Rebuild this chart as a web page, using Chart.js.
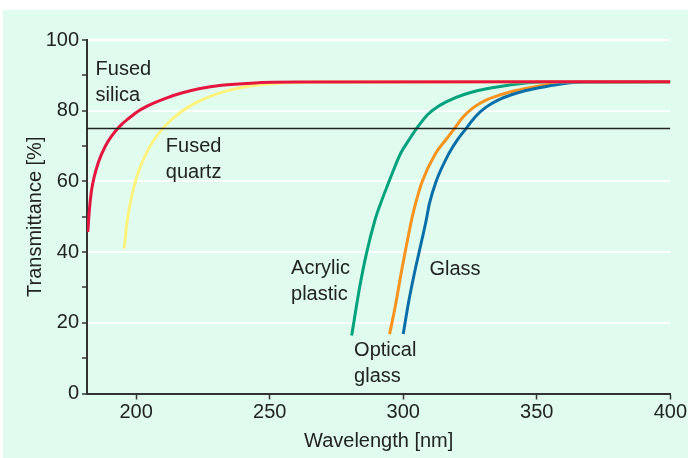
<!DOCTYPE html>
<html lang="en">
<head>
<meta charset="UTF-8" />
<title>Transmittance of optical materials</title>
<script src="https://cdn.jsdelivr.net/npm/chart.js"></script>
<style>
  body { margin: 0; background: #fff; }
  #wrap {
    position: absolute;
    left: 3px;
    top: 10px;
    width: 685px;
    height: 448px;
    background: #e0fcee; /* mint panel */
  }
</style>
</head>
<body>
<div id="wrap"><canvas id="chart"></canvas></div>
<script>
// wavelength [nm] / transmittance [%]
const silicaX = [181.9, 182.5, 183.2, 184.2, 185.9, 188.5, 191, 194, 197.5, 201, 205.5, 211, 217, 224, 232, 243, 260, 400];
const silicaY = [45.7, 52, 57, 61, 65.5, 70, 73, 75.7, 78, 80, 81.8, 83.5, 85, 86.3, 87.2, 87.8, 88.1, 88.2];

const quartzX = [195.5, 196.5, 197.7, 199.2, 201, 203.5, 206.5, 210, 214, 219, 225, 232, 241, 252, 268, 400];
const quartzY = [41, 48, 53.5, 58.5, 63, 67.5, 71.5, 75, 78, 80.8, 83.2, 85.2, 86.8, 87.7, 88.1, 88.2];

const acrylicX = [280.7, 281.6, 283.7, 286.2, 289.4, 291.5, 294.7, 299, 302.1, 305.5, 309, 313, 317.5, 322.5, 328, 335.7, 344.4, 352, 400];
const acrylicY = [16.4, 20.6, 30.1, 39.5, 49, 53.7, 60, 67.9, 71.7, 75.5, 78.8, 81.2, 83, 84.5, 85.7, 86.8, 87.7, 88.1, 88.2];

const opticalX = [294.9, 297.2, 299.4, 300.6, 303.1, 304.6, 307.1, 312.1, 316.4, 319.2, 322.5, 326.5, 331, 336.5, 342, 349.3, 356.8, 363, 400];
const opticalY = [16.8, 25.4, 34.8, 39.5, 49, 53.7, 60, 67.9, 72.2, 75, 78.3, 81, 83, 84.5, 85.7, 86.8, 87.7, 88.1, 88.2];

const glassX = [300, 301.9, 304.4, 305.8, 308.6, 309.8, 312.3, 317.1, 320.2, 323.9, 327, 331, 335.5, 340.5, 346, 353.1, 360.5, 367, 400];
const glassY = [16.8, 25.4, 34.8, 39.5, 49, 53.7, 60, 67.9, 71.7, 75.3, 78.3, 81, 83, 84.5, 85.7, 86.8, 87.7, 88.1, 88.2];

const refLineX = [181.6, 400];
const refLineY = [75, 75];

const xTicks = [200, 250, 300, 350, 400];
const yTicks = [0, 10, 20, 30, 40, 50, 60, 70, 80, 90, 100];

// curve labels: text lines, left edge and first baseline in data units
const labelText = [["Fused", "silica"], ["Fused", "quartz"], ["Acrylic", "plastic"], ["Glass"], ["Optical", "glass"]];
const labelX = [184.8, 211.1, 258.0, 309.8, 281.6];
const labelY = [90.1, 68.4, 33.9, 33.4, 10.7];

const fontFamily = "'Liberation Sans Narrow', 'Arial Narrow', sans-serif";
Chart.defaults.font.family = fontFamily;
Chart.defaults.color = "#222";

function pts(xs, ys) {
  return xs.map((x, i) => ({ x: x, y: ys[i] }));
}

function curve(label, xs, ys, color, order) {
  return {
    label: label,
    data: pts(xs, ys),
    borderColor: color,
    borderWidth: 3,
    pointRadius: 0,
    cubicInterpolationMode: "monotone",
    fill: false,
    order: order,
  };
}

const curveLabels = {
  id: "curveLabels",
  afterDatasetsDraw(chart) {
    const ctx = chart.ctx;
    const xs = chart.scales.x;
    const ys = chart.scales.y;
    ctx.save();
    ctx.font = "20px " + fontFamily;
    ctx.fillStyle = "#222";
    ctx.textAlign = "left";
    ctx.textBaseline = "alphabetic";
    labelText.forEach((lines, i) => {
      const px = xs.getPixelForValue(labelX[i]);
      const py = ys.getPixelForValue(labelY[i]);
      lines.forEach((t, j) => ctx.fillText(t, px, py + j * 26));
    });
    ctx.restore();
  },
};

new Chart(document.getElementById("chart"), {
  type: "line",
  data: {
    datasets: [
      {
        label: "75 %",
        data: pts(refLineX, refLineY),
        borderColor: "#222",
        borderWidth: 1.5,
        pointRadius: 0,
        order: 1,
      },
      curve("Fused silica", silicaX, silicaY, "#e4163f", 2),
      curve("Fused quartz", quartzX, quartzY, "#fff27e", 3),
      curve("Glass", glassX, glassY, "#0a6ea8", 4),
      curve("Optical glass", opticalX, opticalY, "#f7931e", 5),
      curve("Acrylic plastic", acrylicX, acrylicY, "#00a27e", 6),
    ],
  },
  options: {
    responsive: true,
    maintainAspectRatio: false,
    animation: false,
    layout: { padding: { top: 30, right: 15, left: 0, bottom: 0 } },
    plugins: {
      legend: { display: false },
      tooltip: { enabled: false },
    },
    scales: {
      x: {
        type: "linear",
        min: 181.6,
        max: 400,
        afterBuildTicks: (s) => { s.ticks = xTicks.map((v) => ({ value: v })); },
        afterFit: (s) => { s.height = 64.5; },
        grid: { drawOnChartArea: false, drawTicks: true, tickLength: 6, tickColor: "#333", tickWidth: 1.5 },
        border: { color: "#333", width: 2 },
        ticks: { font: { size: 20 }, padding: 1, color: "#222", maxRotation: 0, autoSkip: false },
        title: { display: true, text: "Wavelength [nm]", font: { size: 20 }, color: "#222", padding: { top: 0, bottom: 5 } },
      },
      y: {
        type: "linear",
        min: 0,
        max: 100,
        afterBuildTicks: (s) => { s.ticks = yTicks.map((v) => ({ value: v })); },
        afterFit: (s) => { s.width = 84; },
        grid: {
          color: (c) => (c.tick && c.tick.value % 20 === 0 && c.tick.value > 0 ? "#ffffff" : "rgba(0,0,0,0)"),
          lineWidth: 2,
          drawTicks: true,
          tickLength: 5,
          tickColor: "#333",
          tickWidth: 1.5,
        },
        border: { color: "#333", width: 2 },
        ticks: {
          font: { size: 20 },
          padding: 3,
          color: "#222",
          autoSkip: false,
          callback: (v) => (v % 20 === 0 ? v : ""),
        },
        title: { display: true, text: "Transmittance [%]", font: { size: 20 }, color: "#222", padding: { top: 20, bottom: 0 } },
      },
    },
  },
  plugins: [curveLabels],
});
</script>
</body>
</html>
